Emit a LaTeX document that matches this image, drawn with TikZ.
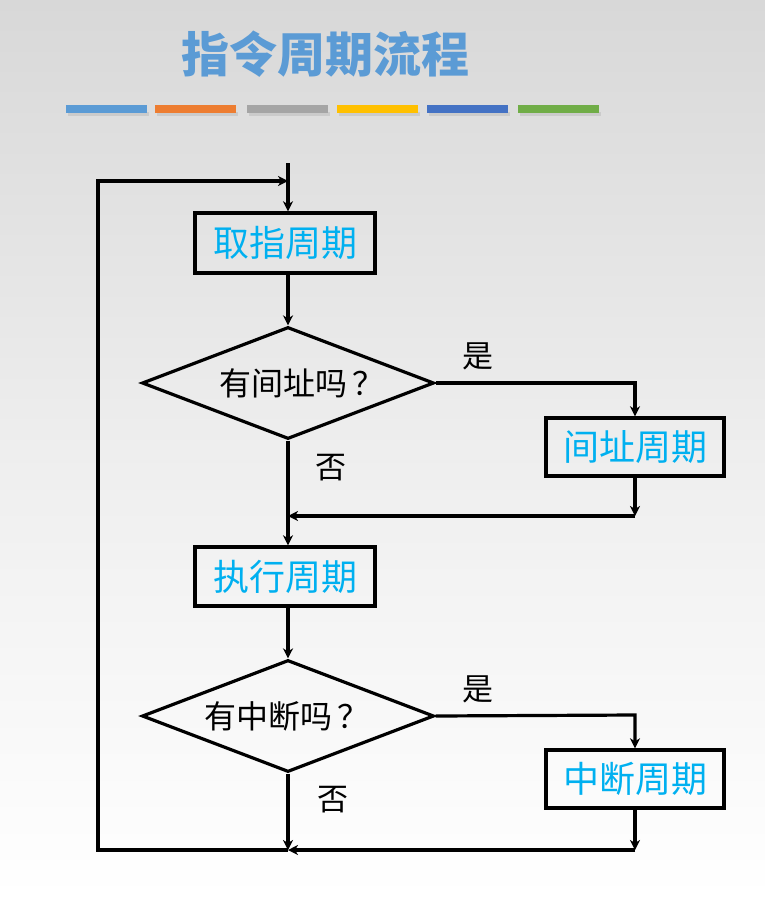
\documentclass[tikz,border=0pt]{standalone}
\usepackage{fontspec}
\newfontfamily\cjk{Noto Sans CJK SC}
\usetikzlibrary{arrows.meta,shapes.geometric}
\definecolor{titleblue}{RGB}{91,155,213}
\definecolor{boxcyan}{RGB}{0,176,240}
\definecolor{barA}{RGB}{91,155,213}
\definecolor{barB}{RGB}{237,125,49}
\definecolor{barC}{RGB}{165,165,165}
\definecolor{barD}{RGB}{255,192,0}
\definecolor{barE}{RGB}{68,114,196}
\definecolor{barF}{RGB}{112,173,71}
\definecolor{bgtop}{RGB}{216,216,216}
\tikzset{
  stepbox/.style={draw=black, line width=3.4pt, inner sep=0pt, font=\cjk\fontsize{36}{40}\selectfont, text=boxcyan},
  decide/.style={draw=black, diamond, line width=3.2pt, inner sep=0pt, minimum width=292pt, minimum height=112pt},
  dtext/.style={font=\cjk\fontsize{32}{36}\selectfont, text=black, inner sep=0pt},
  lbl/.style={font=\cjk\fontsize{31}{34}\selectfont, text=black, inner sep=0pt},
  arr/.style={line width=3.2pt, -{Stealth[length=10pt,width=10pt,inset=3pt]}},
  bar/.style={inner sep=0pt, minimum height=8pt, minimum width=81pt}
}
\begin{document}
\begin{tikzpicture}[x=1pt,y=-1pt]
\shade[top color=bgtop, bottom color=white, middle color={rgb,255:red,238;green,238;blue,238}] (0,0) rectangle (765,899);
\useasboundingbox (0,0) rectangle (765,899);
% title
\node[font=\cjk\bfseries\fontsize{48}{52}\selectfont, text=titleblue, inner sep=0pt] (title) at (325,54) {指令周期流程};
% bars with shadow
\foreach \x/\c [count=\i] in {106.5/barA,195.5/barB,287.5/barC,377.5/barD,467.5/barE,558.5/barF}{
  \fill[black!25, opacity=0.6] (\x-40.5+1.5,111.5) rectangle (\x+40.5+1.5,115.5);
  \node[bar, fill=\c] (bar\i) at (\x,109) {};
}
% boxes
\node[stepbox, minimum width=180pt, minimum height=60pt] (b1) at (285,243) {取指周期};
\node[stepbox, minimum width=178pt, minimum height=58pt] (b2) at (635,447) {间址周期};
\node[stepbox, minimum width=180pt, minimum height=59pt] (b3) at (285,576.5) {执行周期};
\node[stepbox, minimum width=178pt, minimum height=58pt] (b4) at (635,779) {中断周期};
% diamonds
\node[decide] (d1) at (288,383) {};
\node[dtext] (d1t) at (302,383) {有间址吗\,？};
\node[decide] (d2) at (288,716) {};
\node[dtext] (d2t) at (287,716) {有中断吗\,？};
% labels
\node[lbl] (y1) at (478,356) {是};
\node[lbl] (n1) at (331,468) {否};
\node[lbl] (y2) at (478,689) {是};
\node[lbl] (n2) at (333,800) {否};
% coordinates
\coordinate (start) at (288,163);
\coordinate (jt) at (288,181);
\coordinate (lt) at (98,181);
\coordinate (lb) at (98,850);
\coordinate (jb) at (288,850);
\coordinate (r1) at (635,383);
\coordinate (m1) at (635,516);
\coordinate (j1) at (288,516);
\coordinate (r2) at (635,715);
\coordinate (m2) at (635,850);
% connectors
\draw[arr] (start) -- (start |- b1.north);
\draw[arr] (jb) -- (lb) -- (lt) -- (jt);
\draw[arr] (b1.south -| d1.north) -- (d1.north);
\draw[arr] (d1.east) -- (r1) -- (b2.north);
\draw[arr] (b2.south) -- (m1);
\draw[arr] (m1) -- (j1);
\draw[arr] (d1.south) -- (d1.south |- b3.north);
\draw[arr] (b3.south -| d2.north) -- (d2.north);
\draw[arr] (d2.east) -- (r2) -- (b4.north);
\draw[arr] (b4.south) -- (m2);
\draw[arr] (m2) -- (jb);
\draw[arr] (d2.south) -- (jb);
\end{tikzpicture}
\end{document}
